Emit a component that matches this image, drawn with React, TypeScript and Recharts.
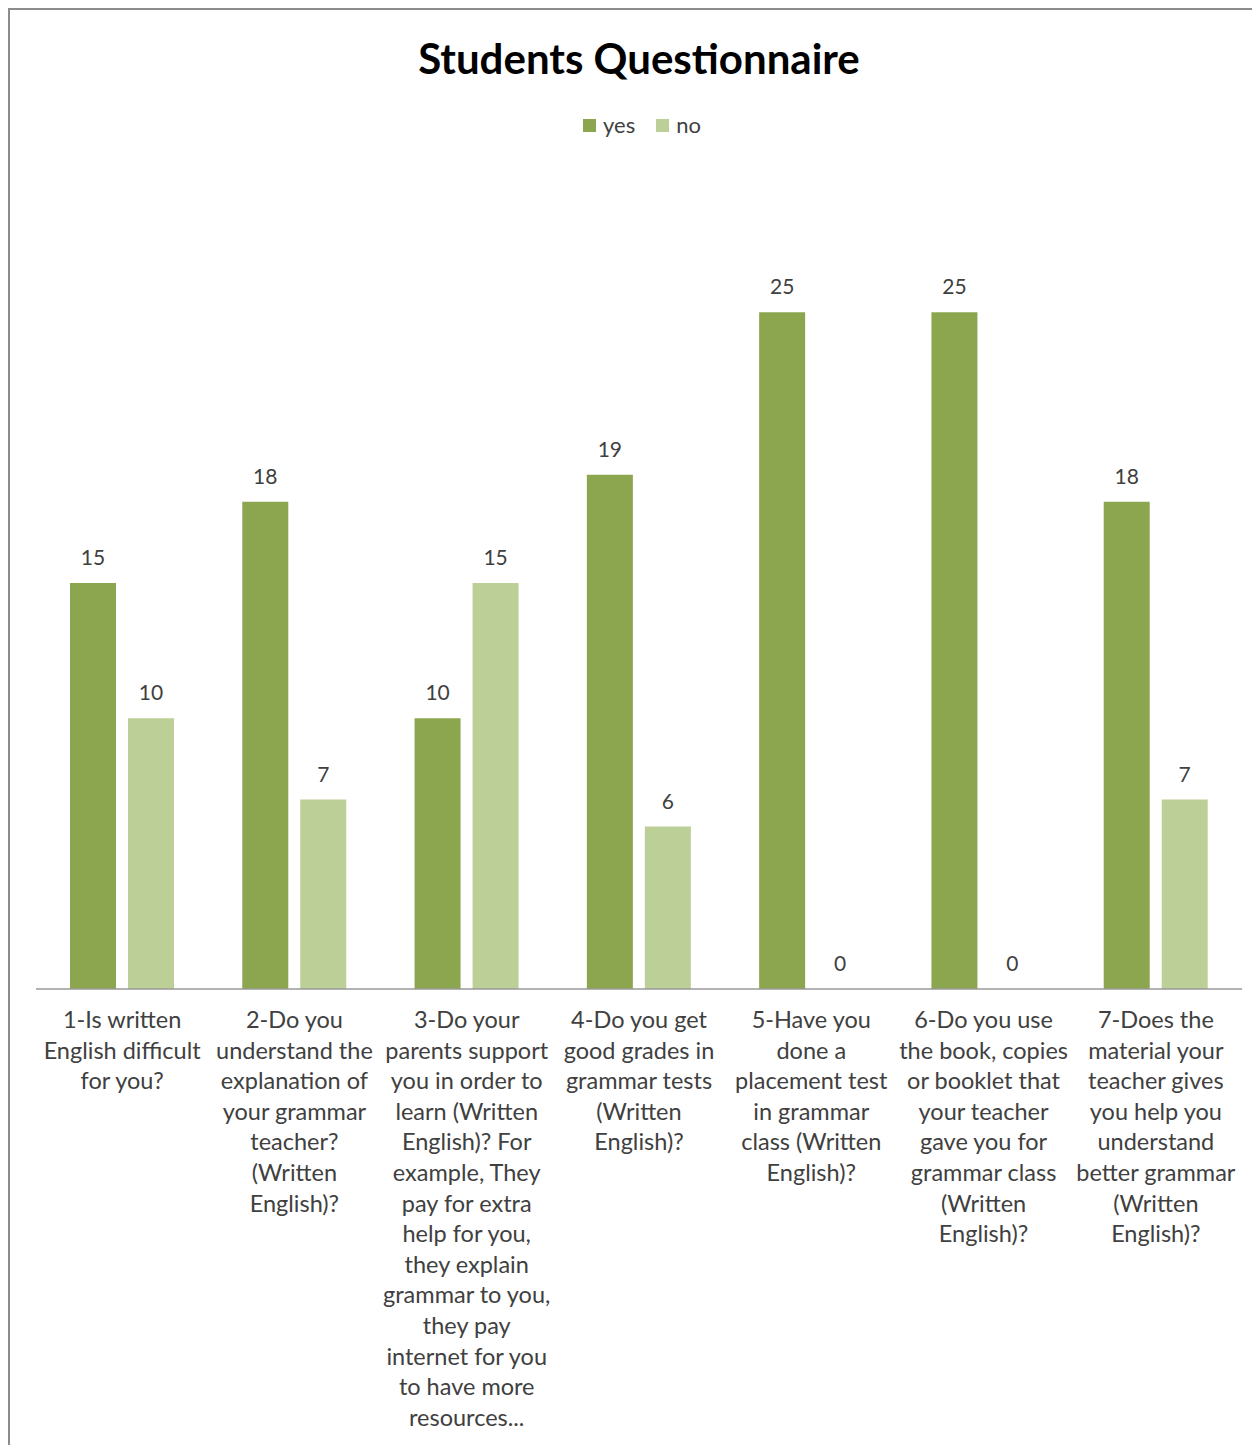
import { Bar, BarChart, LabelList, XAxis, YAxis } from "recharts";

const questions = [
    "1-Is written\nEnglish difficult\nfor you?",
    "2-Do you\nunderstand the\nexplanation of\nyour grammar\nteacher?\n(Written\nEnglish)?",
    "3-Do your\nparents support\nyou in order to\nlearn (Written\nEnglish)? For\nexample, They\npay for extra\nhelp for you,\nthey explain\ngrammar to you,\nthey pay\ninternet for you\nto have more\nresources...",
    "4-Do you get\ngood grades in\ngrammar tests\n(Written\nEnglish)?",
    "5-Have you\ndone a\nplacement test\nin grammar\nclass (Written\nEnglish)?",
    "6-Do you use\nthe book, copies\nor booklet that\nyour teacher\ngave you for\ngrammar class\n(Written\nEnglish)?",
    "7-Does the\nmaterial your\nteacher gives\nyou help you\nunderstand\nbetter grammar\n(Written\nEnglish)?",
];
const yesCounts = [15, 18, 10, 19, 25, 25, 18];
const noCounts = [10, 7, 15, 6, 0, 0, 7];

const YES_COLOR = "#8ba64f";
const NO_COLOR = "#bbcf96";
const TEXT = "#404040";
const FONT = "Lato, 'Open Sans', sans-serif";

const data = questions.map((q, i) => ({ q, yes: yesCounts[i], no: noCounts[i] }));

// zero bars get a hairline height so their labels still show
const keepZero = (v: any) => (v === 0 ? 0.01 : 0);

const QuestionTick = (props: any) => {
    const { x, y, payload } = props;
    const lines = String(payload.value).split("\n");
    return (
        <text x={x} y={y} textAnchor="middle" fill={TEXT} fontSize={23.5} fontFamily={FONT}>
            {lines.map((l, i) => (
                <tspan key={i} x={x} dy={i === 0 ? 39 : 30.6}>{l}</tspan>
            ))}
        </text>
    );
};

export default function App() {
    return (
        <div style={{ position: "relative", width: 1250, height: 1435, borderTop: "2px solid #8c8c8c", borderLeft: "2px solid #8c8c8c", background: "#fff" }}>
            <div style={{ position: "absolute", left: 0, width: 1258, top: 24, textAlign: "center", fontFamily: FONT, fontWeight: 700, fontSize: 42, lineHeight: "48px", color: "#000" }}>
                Students Questionnaire
            </div>
            <div style={{ position: "absolute", left: 0, width: 1264, top: 103, display: "flex", justifyContent: "center", gap: 21, fontFamily: FONT, fontSize: 22, lineHeight: "24px", color: TEXT }}>
                {[["yes", YES_COLOR], ["no", NO_COLOR]].map(([n, c]) => (
                    <span key={n} style={{ display: "flex", alignItems: "center", gap: 7 }}>
                        <span style={{ width: 13, height: 13, background: c, display: "inline-block" }} />
                        {n}
                    </span>
                ))}
            </div>
            <BarChart
                width={1250}
                height={1435}
                data={data}
                margin={{ top: 167, right: 18, left: 26, bottom: 16 }}
                barSize={46}
                barGap={12}
            >
                <XAxis dataKey="q" interval={0} height={440} tickSize={0} tickMargin={0} tickLine={false}
                       axisLine={{ stroke: "#999", strokeWidth: 1.5 }} tick={<QuestionTick />} />
                <YAxis hide domain={[0, 30]} />
                <Bar dataKey="yes" name="yes" fill={YES_COLOR} minPointSize={keepZero} isAnimationActive={false}>
                    <LabelList dataKey="yes" position="top" offset={18} fill={TEXT} fontSize={21} fontFamily={FONT} />
                </Bar>
                <Bar dataKey="no" name="no" fill={NO_COLOR} minPointSize={keepZero} isAnimationActive={false}>
                    <LabelList dataKey="no" position="top" offset={18} fill={TEXT} fontSize={21} fontFamily={FONT} />
                </Bar>
            </BarChart>
        </div>
    );
}
